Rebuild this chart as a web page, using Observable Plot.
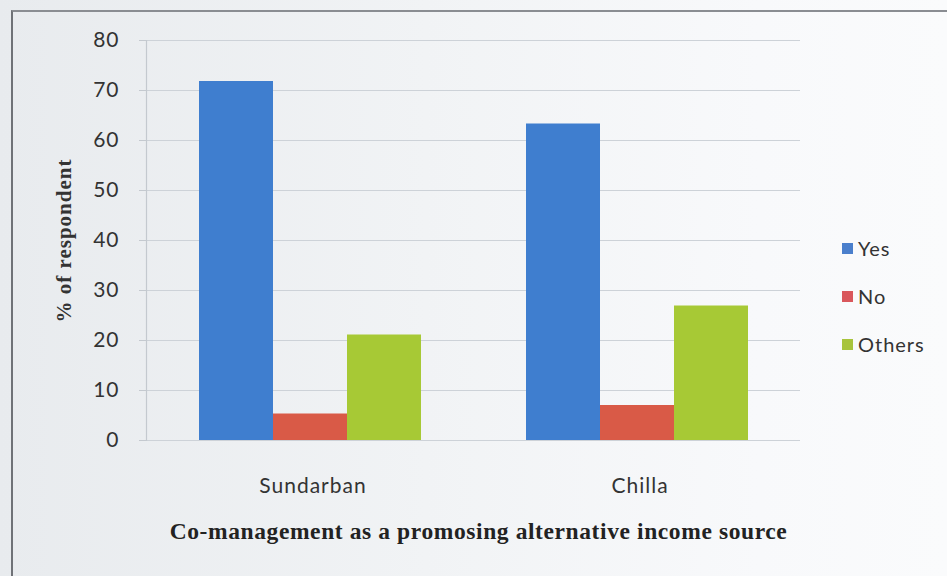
<!DOCTYPE html>
<html>
<head>
<meta charset="utf-8">
<script src="https://cdn.jsdelivr.net/npm/d3@7"></script>
<script src="https://cdn.jsdelivr.net/npm/@observablehq/plot@0.6"></script>
<style>
  html, body { margin: 0; padding: 0; }
  body { width: 947px; height: 576px; overflow: hidden; }
  #chart {
    position: relative; width: 947px; height: 576px;
    background: linear-gradient(to right, #e8ebee 0%, #f1f3f5 45%, #f8f9fb 80%, #fafbfc 100%);
  }
  #frame {
    position: absolute; left: 11px; top: 10px; width: 960px; height: 600px;
    border-top: 2px solid #8a8d92; border-left: 2px solid #6f7277;
  }
  #plot { position: absolute; left: 0; top: 0; }
  #legend {
    position: absolute; left: 842px; top: 236px;
    font-family: Lato, sans-serif; font-size: 20px; color: #333; letter-spacing: 1px;
  }
  #legend .item { display: flex; align-items: center; height: 24px; margin-bottom: 24px; }
  #legend .sw { width: 11px; height: 11px; margin-right: 5px; }
  #caption {
    position: absolute; left: 5px; width: 947px; top: 518px; text-align: center;
    font-family: "Liberation Serif", serif; font-weight: bold; font-size: 23.5px;
    letter-spacing: 0.6px; color: #222;
  }
</style>
</head>
<body>
<div id="chart">
  <div id="frame"></div>
  <div id="plot"></div>
  <div id="legend"></div>
  <div id="caption"></div>
</div>
<script>
// Survey sites and response categories
const sites = ["Sundarban", "Chilla"];
const answers = ["Yes", "No", "Others"];

// Share of respondents (%) per site
const yesValues = [71.8, 63.3];
const noValues = [5.3, 7.0];
const otherValues = [21.1, 26.9];

const yTicks = [0, 10, 20, 30, 40, 50, 60, 70, 80];
const barColors = ["#3f7ecf", "#d95a47", "#a7c935"];
const swatchColors = ["#4a7fcc", "#d9575c", "#a8c43c"];
const yLabel = "% of respondent";
const captionText = "Co-management as a promosing alternative income source";

const rows = sites.flatMap((site, i) => [
  {site, answer: "Yes", value: yesValues[i]},
  {site, answer: "No", value: noValues[i]},
  {site, answer: "Others", value: otherValues[i]}
]);

// Each site gets a contiguous facet; the gap between bar groups comes
// from the outer padding of the inner (answer) band scale, so gridlines
// run unbroken across the whole plot.
const chart = Plot.plot({
  width: 947,
  height: 505,
  marginLeft: 145,
  marginRight: 147,
  marginTop: 40,
  marginBottom: 65,
  style: {background: "transparent", fontFamily: "Lato, sans-serif", fontSize: "21px", color: "#333", letterSpacing: "1px"},
  fx: {domain: sites, padding: 0, label: null},
  x: {domain: answers, paddingInner: 0, paddingOuter: 0.7, axis: null},
  y: {domain: [0, 80], label: null},
  color: {domain: answers, range: barColors},
  marks: [
    Plot.gridY(yTicks, {stroke: "#cdd2d8", strokeOpacity: 1, strokeWidth: 1.2}),
    Plot.frame({anchor: "left", stroke: "#c4c9cf", strokeWidth: 1.2, facetAnchor: "left"}),
    Plot.axisY({ticks: yTicks, tickSize: 7, tickPadding: 20, stroke: "#c4c9cf", label: null}),
    Plot.axisY({ticks: [], label: yLabel, labelAnchor: "center", labelArrow: false, labelOffset: 90,
      fontFamily: "Liberation Serif, serif", fontWeight: "bold", fontSize: 21, letterSpacing: 0.5}),
    Plot.barY(rows, {fx: "site", x: "answer", y: "value", fill: "answer"}),
    Plot.axisFx({anchor: "bottom", tickSize: 0, tickPadding: 38, label: null, fontSize: 21, letterSpacing: 2.2, dx: 3})
  ]
});
document.getElementById("plot").append(chart);

const legend = d3.select("#legend");
answers.forEach((a, i) => {
  const item = legend.append("div").attr("class", "item");
  item.append("div").attr("class", "sw").style("background", swatchColors[i]);
  item.append("span").text(a);
});
document.getElementById("caption").textContent = captionText;
</script>
</body>
</html>
